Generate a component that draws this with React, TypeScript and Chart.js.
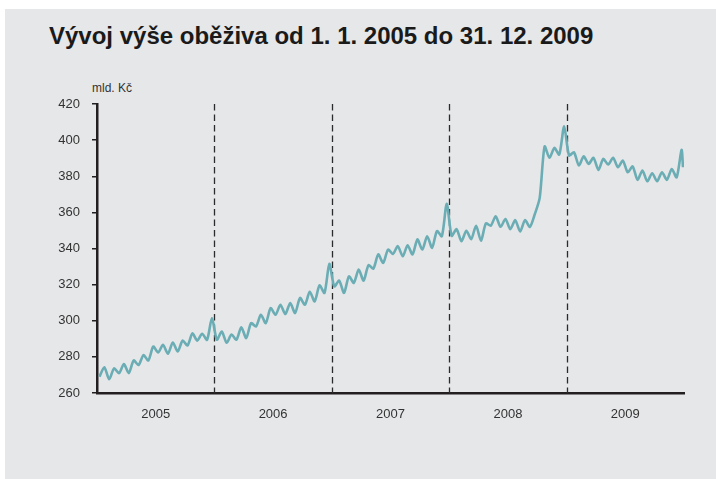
import React, { useEffect, useRef } from "react";
import { Chart, registerables } from "chart.js";

Chart.register(...registerables);

// Year labels (x axis) and y-axis tick values
const years = ["2005", "2006", "2007", "2008", "2009"];
const yTicks = [260, 280, 300, 320, 340, 360, 380, 400, 420];

// Currency in circulation (bn CZK), two readings per month: mid-month low, month-end high
const circ2005 = [269, 274.3, 267.6, 273.7, 271, 276, 271, 278, 275.5, 281, 278, 285.7, 282.4, 286.7, 281.7, 288, 283, 289, 286.3, 293, 289, 292.8, 289.4, 301.5];
const circ2006 = [289.5, 294, 287.8, 292.4, 289.5, 296.4, 290.4, 298.7, 296.8, 303.3, 298.7, 307, 303.3, 308.9, 303.7, 309.8, 304.3, 312.6, 308.9, 316, 310.7, 319.6, 315.4, 331.5];
const circ2007 = [319, 322.2, 315.4, 324.6, 321, 328.3, 322.2, 330.7, 328.9, 336.7, 332, 339.4, 337, 341.3, 335.7, 341.8, 336.7, 345, 339.4, 346.8, 340.4, 349.6, 346.8, 364.8];
const circ2008 = [347, 350.7, 344, 349.8, 345.2, 352.6, 344.3, 353.9, 352.6, 357.8, 352, 356.3, 350.7, 355.7, 349.4, 355.7, 352, 359, 368, 396.5, 390.2, 395.7, 392, 407.6];
const circ2009 = [391.5, 393.3, 386, 391, 386.8, 390.2, 383.5, 389.6, 386.5, 390.2, 385, 388.7, 382.2, 385.4, 378, 383.2, 377.2, 381.7, 377.2, 382.2, 378, 384, 379.4, 394.6];
const circEnd = [385];

const LINE_COLOR = "#6aadb5";
const AXIS_COLOR = "#231f20";
const TEXT_COLOR = "#333333";
const FONT = "'Liberation Sans', Arial, sans-serif";

const yearDividers = {
  id: "yearDividers",
  beforeDatasetsDraw(chart: any) {
    const { ctx, chartArea, scales } = chart;
    const x = scales.x;
    ctx.save();
    ctx.strokeStyle = "#2b2b2b";
    ctx.lineWidth = 1.3;
    ctx.setLineDash([6.5, 4]);
    for (let i = 1; i < years.length; i++) {
      const px = Math.round(x.getPixelForValue(i * 12)) + 0.5;
      ctx.beginPath();
      ctx.moveTo(px, chartArea.top);
      ctx.lineTo(px, chartArea.bottom);
      ctx.stroke();
    }
    ctx.restore();
  },
};

export default function App() {
  const ref = useRef<HTMLCanvasElement>(null);

  useEffect(() => {
    const values = [...circ2005, ...circ2006, ...circ2007, ...circ2008, ...circ2009, ...circEnd];
    const points = values.map((v, i) => ({ x: Math.min(0.25 + i * 0.5, 59.9), y: v }));
    const chart = new Chart(ref.current as HTMLCanvasElement, {
      type: "line",
      data: {
        datasets: [
          {
            data: points,
            borderColor: LINE_COLOR,
            borderWidth: 2.6,
            pointRadius: 0,
            tension: 0.25,
            fill: false,
          },
        ],
      },
      options: {
        animation: false,
        responsive: false,
        devicePixelRatio: 1,
        layout: { padding: { left: 57, right: 32, top: 104, bottom: 56 } },
        plugins: { legend: { display: false }, tooltip: { enabled: false }, title: { display: false } },
        scales: {
          x: {
            type: "linear",
            min: 0,
            max: 60,
            afterFit: (s: any) => {
              s.height = 30;
            },
            afterBuildTicks: (s: any) => {
              s.ticks = years.map((_, i) => ({ value: i * 12 + 6 }));
            },
            ticks: {
              autoSkip: false,
              maxRotation: 0,
              padding: 14,
              color: TEXT_COLOR,
              font: { family: FONT, size: 13 },
              callback: (v: any) => years[Math.floor(Number(v) / 12)] ?? "",
            },
            grid: { display: false, drawTicks: false },
            border: { display: true, color: AXIS_COLOR, width: 2.5 },
          },
          y: {
            min: 260,
            max: 420,
            afterFit: (s: any) => {
              s.width = 40;
            },
            afterBuildTicks: (s: any) => {
              s.ticks = yTicks.map((v) => ({ value: v }));
            },
            ticks: {
              padding: 12,
              color: TEXT_COLOR,
              font: { family: FONT, size: 13 },
            },
            grid: {
              display: true,
              drawOnChartArea: false,
              drawTicks: true,
              tickLength: 5,
              color: AXIS_COLOR,
              lineWidth: 1.5,
            },
            border: { display: true, color: AXIS_COLOR, width: 2.5 },
          },
        },
      },
      plugins: [yearDividers],
    });
    return () => chart.destroy();
  }, []);

  return (
    <div style={{ position: "absolute", left: 0, top: 0, width: 716, height: 479, background: "#ffffff", overflow: "hidden" }}>
      <div style={{ position: "absolute", left: 5, top: 9, width: 711, height: 470, background: "#e6e7e8" }} />
      <div
        style={{
          position: "absolute",
          left: 49,
          top: 22,
          fontFamily: "'Liberation Sans', Arial, sans-serif",
          fontWeight: 700,
          fontSize: 24,
          lineHeight: "28px",
          color: "#1a1a1a",
          whiteSpace: "nowrap",
        }}
      >
        Vývoj výše oběživa od 1. 1. 2005 do 31. 12. 2009
      </div>
      <div
        style={{
          position: "absolute",
          left: 92,
          top: 80,
          fontFamily: FONT,
          fontSize: 12,
          lineHeight: "16px",
          color: TEXT_COLOR,
          whiteSpace: "nowrap",
        }}
      >
        mld. Kč
      </div>
      <canvas ref={ref} width={716} height={479} style={{ position: "absolute", left: 0, top: 0, width: 716, height: 479 }} />
    </div>
  );
}
